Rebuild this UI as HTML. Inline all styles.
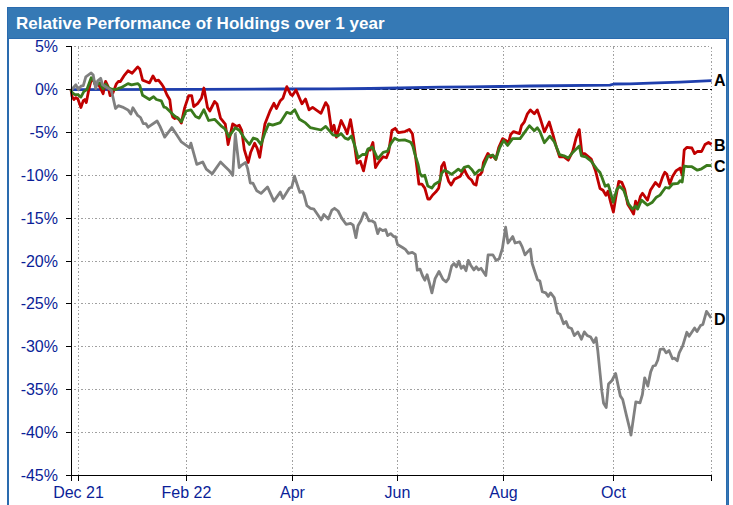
<!DOCTYPE html>
<html><head><meta charset="utf-8"><title>Relative Performance of Holdings over 1 year</title>
<style>html,body{margin:0;padding:0;background:#fff;width:733px;height:505px;overflow:hidden}svg{display:block}</style>
</head><body>
<svg width="733" height="505" viewBox="0 0 733 505"><rect x="7" y="7" width="722" height="498" fill="#3579B5"/>
<rect x="7" y="7" width="722" height="1" fill="#2A6BAE"/>
<rect x="7" y="7" width="1" height="498" fill="#2A6BAE"/>
<rect x="728" y="7" width="1" height="498" fill="#2A6BAE"/>
<rect x="8" y="38" width="719" height="467" fill="#2A6BAE"/>
<rect x="9" y="39" width="717" height="466" fill="#FFFFFF"/>
<text x="16" y="28.6" font-family="Liberation Sans" font-weight="bold" font-size="17" letter-spacing="0.05" fill="#FFFFFF">Relative Performance of Holdings over 1 year</text>
<line x1="74" y1="46.5" x2="711" y2="46.5" stroke="#A0A0A0" stroke-width="1" stroke-dasharray="2 2 1 2"/>
<line x1="74" y1="132.5" x2="711" y2="132.5" stroke="#A0A0A0" stroke-width="1" stroke-dasharray="2 2 1 2"/>
<line x1="74" y1="175.5" x2="711" y2="175.5" stroke="#A0A0A0" stroke-width="1" stroke-dasharray="2 2 1 2"/>
<line x1="74" y1="218.5" x2="711" y2="218.5" stroke="#A0A0A0" stroke-width="1" stroke-dasharray="2 2 1 2"/>
<line x1="74" y1="261.5" x2="711" y2="261.5" stroke="#A0A0A0" stroke-width="1" stroke-dasharray="2 2 1 2"/>
<line x1="74" y1="303.5" x2="711" y2="303.5" stroke="#A0A0A0" stroke-width="1" stroke-dasharray="2 2 1 2"/>
<line x1="74" y1="346.5" x2="711" y2="346.5" stroke="#A0A0A0" stroke-width="1" stroke-dasharray="2 2 1 2"/>
<line x1="74" y1="389.5" x2="711" y2="389.5" stroke="#A0A0A0" stroke-width="1" stroke-dasharray="2 2 1 2"/>
<line x1="74" y1="432.5" x2="711" y2="432.5" stroke="#A0A0A0" stroke-width="1" stroke-dasharray="2 2 1 2"/>
<line x1="78.5" y1="47" x2="78.5" y2="475" stroke="#A0A0A0" stroke-width="1" stroke-dasharray="2 2 1 2"/>
<line x1="186.5" y1="47" x2="186.5" y2="475" stroke="#A0A0A0" stroke-width="1" stroke-dasharray="2 2 1 2"/>
<line x1="292.5" y1="47" x2="292.5" y2="475" stroke="#A0A0A0" stroke-width="1" stroke-dasharray="2 2 1 2"/>
<line x1="397.5" y1="47" x2="397.5" y2="475" stroke="#A0A0A0" stroke-width="1" stroke-dasharray="2 2 1 2"/>
<line x1="503.5" y1="47" x2="503.5" y2="475" stroke="#A0A0A0" stroke-width="1" stroke-dasharray="2 2 1 2"/>
<line x1="613.5" y1="47" x2="613.5" y2="475" stroke="#A0A0A0" stroke-width="1" stroke-dasharray="2 2 1 2"/>
<line x1="711.5" y1="47" x2="711.5" y2="475" stroke="#A0A0A0" stroke-width="1" stroke-dasharray="2 2 1 2"/>
<line x1="70.4" y1="89.5" x2="712" y2="89.5" stroke="#000" stroke-width="1.2" stroke-dasharray="5.6 2.2"/>
<line x1="71.5" y1="46" x2="71.5" y2="481" stroke="#000" stroke-width="1"/>
<line x1="66" y1="475.5" x2="712" y2="475.5" stroke="#000" stroke-width="1"/>
<line x1="66" y1="46.5" x2="71.5" y2="46.5" stroke="#000" stroke-width="1"/>
<text x="58" y="52.1" text-anchor="end" font-family="Liberation Sans" font-size="16" fill="#0A1E98">5%</text>
<line x1="66" y1="89.5" x2="71.5" y2="89.5" stroke="#000" stroke-width="1"/>
<text x="58" y="95.1" text-anchor="end" font-family="Liberation Sans" font-size="16" fill="#0A1E98">0%</text>
<line x1="66" y1="132.5" x2="71.5" y2="132.5" stroke="#000" stroke-width="1"/>
<text x="58" y="138.1" text-anchor="end" font-family="Liberation Sans" font-size="16" fill="#0A1E98">-5%</text>
<line x1="66" y1="175.5" x2="71.5" y2="175.5" stroke="#000" stroke-width="1"/>
<text x="58" y="181.1" text-anchor="end" font-family="Liberation Sans" font-size="16" fill="#0A1E98">-10%</text>
<line x1="66" y1="218.5" x2="71.5" y2="218.5" stroke="#000" stroke-width="1"/>
<text x="58" y="224.1" text-anchor="end" font-family="Liberation Sans" font-size="16" fill="#0A1E98">-15%</text>
<line x1="66" y1="261.5" x2="71.5" y2="261.5" stroke="#000" stroke-width="1"/>
<text x="58" y="267.1" text-anchor="end" font-family="Liberation Sans" font-size="16" fill="#0A1E98">-20%</text>
<line x1="66" y1="303.5" x2="71.5" y2="303.5" stroke="#000" stroke-width="1"/>
<text x="58" y="309.1" text-anchor="end" font-family="Liberation Sans" font-size="16" fill="#0A1E98">-25%</text>
<line x1="66" y1="346.5" x2="71.5" y2="346.5" stroke="#000" stroke-width="1"/>
<text x="58" y="352.1" text-anchor="end" font-family="Liberation Sans" font-size="16" fill="#0A1E98">-30%</text>
<line x1="66" y1="389.5" x2="71.5" y2="389.5" stroke="#000" stroke-width="1"/>
<text x="58" y="395.1" text-anchor="end" font-family="Liberation Sans" font-size="16" fill="#0A1E98">-35%</text>
<line x1="66" y1="432.5" x2="71.5" y2="432.5" stroke="#000" stroke-width="1"/>
<text x="58" y="438.1" text-anchor="end" font-family="Liberation Sans" font-size="16" fill="#0A1E98">-40%</text>
<line x1="66" y1="475.5" x2="71.5" y2="475.5" stroke="#000" stroke-width="1"/>
<text x="58" y="481.1" text-anchor="end" font-family="Liberation Sans" font-size="16" fill="#0A1E98">-45%</text>
<line x1="78.5" y1="475" x2="78.5" y2="481" stroke="#000" stroke-width="1"/>
<text x="78.5" y="497.7" text-anchor="middle" font-family="Liberation Sans" font-size="16" fill="#0A1E98">Dec 21</text>
<line x1="186.5" y1="475" x2="186.5" y2="481" stroke="#000" stroke-width="1"/>
<text x="186.5" y="497.7" text-anchor="middle" font-family="Liberation Sans" font-size="16" fill="#0A1E98">Feb 22</text>
<line x1="292.5" y1="475" x2="292.5" y2="481" stroke="#000" stroke-width="1"/>
<text x="292.5" y="497.7" text-anchor="middle" font-family="Liberation Sans" font-size="16" fill="#0A1E98">Apr</text>
<line x1="397.5" y1="475" x2="397.5" y2="481" stroke="#000" stroke-width="1"/>
<text x="397.5" y="497.7" text-anchor="middle" font-family="Liberation Sans" font-size="16" fill="#0A1E98">Jun</text>
<line x1="503.5" y1="475" x2="503.5" y2="481" stroke="#000" stroke-width="1"/>
<text x="503.5" y="497.7" text-anchor="middle" font-family="Liberation Sans" font-size="16" fill="#0A1E98">Aug</text>
<line x1="613.5" y1="475" x2="613.5" y2="481" stroke="#000" stroke-width="1"/>
<text x="613.5" y="497.7" text-anchor="middle" font-family="Liberation Sans" font-size="16" fill="#0A1E98">Oct</text>
<line x1="711.5" y1="475" x2="711.5" y2="481" stroke="#000" stroke-width="1"/>
<path d="M71.0,89.6 L200.0,89.4 L280.0,89.0 L330.0,88.8 L370.0,88.5 L400.0,88.0 L440.0,87.2 L470.0,86.8 L500.0,86.5 L530.0,86.0 L610.0,85.2 L614.0,84.0 L630.0,83.8 L650.0,83.1 L680.0,82.1 L711.5,80.7" fill="none" stroke="#1F3FAD" stroke-width="2.8" stroke-linejoin="round"/>
<path d="M71.0,89.5 L72.1,96.6 L73.9,99.6 L75.9,97.6 L77.9,99.1 L80.9,107.5 L83.3,100.6 L84.8,99.6 L86.3,102.6 L88.8,89.7 L91.2,79.8 L92.7,78.8 L95.7,85.7 L98.2,83.8 L100.7,88.7 L103.1,93.7 L105.6,81.3 L108.1,86.7 L110.1,95.6 L112.8,93.3 L116.2,84.2 L118.3,81.5 L120.4,81.5 L123.9,75.9 L128.0,70.8 L132.2,73.2 L137.7,66.9 L139.8,69.0 L142.6,80.1 L146.0,81.5 L149.5,82.9 L153.0,75.9 L155.7,80.8 L158.5,80.1 L162.0,84.6 L163.9,87.8 L166.9,94.7 L169.8,99.7 L171.4,112.6 L172.8,117.1 L174.8,118.5 L177.2,117.5 L179.8,120.5 L181.3,123.1 L184.7,107.6 L188.7,95.7 L191.7,95.7 L193.7,106.6 L197.6,103.7 L201.5,98.0 L203.9,88.0 L207.5,107.5 L209.8,111.0 L214.6,101.5 L217.0,103.9 L220.5,118.1 L225.3,124.1 L228.1,144.5 L232.7,123.9 L236.6,126.5 L239.2,125.2 L241.7,130.3 L244.3,149.6 L248.2,162.5 L250.7,152.2 L254.6,143.2 L257.2,148.3 L259.7,157.3 L264.9,123.9 L270.0,111.0 L273.9,103.3 L276.5,108.5 L280.3,100.7 L282.9,98.2 L286.8,86.6 L290.6,94.3 L292.4,95.5 L296.0,90.0 L301.9,103.8 L305.5,99.0 L309.0,109.8 L312.6,107.4 L321.0,113.3 L325.7,102.6 L328.1,106.2 L331.7,131.2 L334.0,125.2 L336.4,137.1 L341.2,120.5 L345.0,128.3 L347.2,133.8 L350.5,119.6 L353.7,138.2 L357.0,163.2 L360.3,161.1 L363.5,170.9 L367.9,150.2 L370.1,150.2 L372.9,142.5 L375.5,167.6 L378.8,162.1 L383.2,156.7 L386.4,157.8 L388.6,152.3 L391.9,130.5 L395.2,128.3 L398.4,132.7 L405.0,131.6 L409.3,129.4 L412.4,133.7 L414.9,151.5 L416.9,167.3 L418.9,184.2 L421.9,184.2 L424.8,188.1 L427.8,199.0 L429.8,199.0 L432.7,195.0 L435.7,192.1 L438.7,188.1 L440.7,177.2 L441.6,166.4 L444.0,162.4 L446.6,174.3 L448.6,181.2 L451.1,185.1 L454.5,179.2 L460.4,176.2 L464.2,169.1 L466.6,174.4 L469.0,178.0 L471.4,179.8 L473.7,183.9 L476.1,185.1 L477.9,175.6 L480.3,174.4 L482.0,172.0 L483.5,162.3 L487.9,153.4 L490.8,157.3 L492.8,155.4 L495.8,159.3 L498.7,147.5 L502.7,138.6 L505.7,140.5 L508.6,142.5 L510.6,134.6 L513.6,131.6 L519.5,133.6 L521.5,125.7 L524.4,121.8 L527.4,113.8 L530.4,109.9 L534.3,113.8 L537.3,109.9 L540.0,117.6 L544.4,131.8 L549.2,122.0 L553.1,135.1 L556.4,147.1 L559.6,156.9 L564.0,156.9 L568.3,160.2 L572.7,151.4 L576.0,138.3 L579.3,129.6 L581.9,153.6 L584.7,153.6 L591.2,159.1 L595.6,171.1 L600.0,188.5 L603.0,190.3 L605.9,195.3 L607.9,191.3 L610.9,203.2 L613.4,212.1 L615.8,197.2 L618.8,181.4 L621.8,182.4 L624.7,189.3 L627.7,204.2 L630.7,209.1 L633.6,214.0 L635.6,201.2 L637.6,207.1 L640.5,196.2 L642.5,193.3 L647.5,200.2 L650.4,190.3 L655.4,182.4 L659.3,186.4 L662.8,176.4 L664.8,172.3 L666.9,174.3 L669.7,184.0 L672.5,176.4 L675.9,170.9 L680.1,168.1 L682.2,175.0 L684.2,150.1 L687.0,147.3 L691.9,148.0 L694.6,153.6 L697.4,151.5 L701.6,151.5 L705.0,144.5 L708.5,142.5 L711.5,144.5" fill="none" stroke="#C00000" stroke-width="2.8" stroke-linejoin="round"/>
<path d="M71.0,89.5 L72.1,92.7 L74.9,94.7 L77.9,94.7 L80.9,97.1 L83.8,91.7 L86.8,89.7 L91.2,77.8 L93.2,78.8 L95.7,85.7 L99.7,82.8 L103.1,88.7 L105.6,84.3 L108.6,87.7 L111.5,89.2 L115.5,89.7 L118.3,88.4 L121.1,87.7 L128.0,83.6 L131.5,84.9 L137.7,83.6 L139.8,85.6 L142.6,95.3 L149.5,99.5 L153.6,96.7 L156.4,99.5 L161.3,100.9 L164.0,107.1 L165.9,107.5 L169.5,111.0 L174.2,115.8 L177.8,118.1 L181.4,121.7 L186.1,111.0 L190.9,109.8 L195.6,116.5 L199.2,118.1 L203.9,109.8 L208.6,120.5 L214.6,119.3 L221.7,126.4 L225.0,129.0 L228.9,136.8 L235.3,127.8 L239.2,130.3 L244.3,138.0 L249.4,144.5 L253.3,138.0 L257.2,139.3 L261.0,144.5 L264.9,132.9 L268.7,123.9 L272.6,125.2 L276.5,123.9 L280.3,122.6 L286.8,112.3 L290.6,113.6 L294.8,109.8 L299.5,119.3 L305.5,122.9 L310.2,127.6 L321.0,130.0 L325.7,126.4 L332.9,134.8 L337.6,136.0 L341.2,133.6 L345.0,138.2 L348.3,139.3 L351.5,136.0 L354.8,145.8 L358.1,157.8 L362.4,154.5 L365.7,154.5 L367.9,149.1 L372.3,146.9 L377.7,158.9 L383.2,152.3 L387.5,151.2 L390.8,143.6 L394.7,138.2 L398.4,140.3 L404.7,139.9 L409.1,141.5 L411.0,142.5 L412.9,146.3 L414.8,153.9 L418.0,164.1 L419.9,173.3 L421.9,176.2 L424.8,175.3 L427.8,186.1 L431.8,188.1 L434.7,184.2 L439.7,181.2 L441.6,173.3 L444.6,170.3 L448.6,172.3 L451.5,174.3 L455.5,171.3 L458.3,169.1 L461.3,171.5 L464.2,167.3 L468.3,166.1 L472.0,169.7 L475.0,174.2 L479.0,170.2 L481.9,170.2 L484.9,163.3 L487.9,156.4 L492.8,155.0 L495.8,159.3 L499.7,147.5 L503.7,140.5 L507.6,145.5 L512.6,138.6 L516.5,138.6 L520.1,138.6 L524.4,132.6 L529.4,125.7 L534.3,130.7 L537.3,127.7 L540.0,131.8 L544.4,142.7 L549.8,136.2 L554.2,141.6 L559.6,154.7 L564.0,155.8 L568.3,158.0 L572.7,152.5 L579.3,146.0 L581.4,155.8 L585.8,156.9 L591.2,161.2 L596.7,168.9 L600.0,172.5 L602.0,177.5 L605.2,186.3 L608.2,184.7 L610.0,190.5 L613.2,202.2 L616.8,189.3 L619.8,186.4 L623.7,190.3 L628.7,204.2 L632.6,209.1 L635.6,206.1 L637.6,209.1 L641.5,200.2 L647.5,205.1 L652.4,202.2 L656.4,197.2 L660.0,195.1 L665.5,187.5 L669.0,188.2 L672.5,184.0 L678.0,183.3 L680.1,180.6 L682.2,182.0 L684.2,166.0 L687.7,166.7 L691.9,166.7 L697.4,170.2 L701.6,168.8 L707.1,165.3 L711.5,165.7" fill="none" stroke="#3A7A1C" stroke-width="2.8" stroke-linejoin="round"/>
<path d="M71.0,89.5 L72.0,89.2 L75.9,84.8 L78.4,89.7 L80.9,86.2 L83.3,85.7 L85.8,76.8 L91.2,72.9 L93.2,74.9 L95.7,88.7 L97.7,80.8 L100.7,78.3 L102.6,84.8 L105.6,86.7 L108.6,88.7 L111.5,90.7 L115.5,108.5 L118.3,105.7 L122.5,107.1 L128.0,109.9 L130.8,114.0 L132.9,107.8 L137.7,115.4 L140.5,117.5 L143.3,123.7 L146.0,123.7 L148.1,127.2 L157.1,121.0 L160.0,126.4 L164.7,137.1 L171.9,127.6 L181.4,141.9 L189.7,147.8 L190.9,143.1 L196.8,164.4 L202.7,162.0 L206.3,169.2 L212.2,173.9 L220.5,162.0 L225.0,166.4 L228.9,170.2 L232.7,175.4 L235.3,134.2 L239.2,167.6 L241.7,165.1 L245.6,162.5 L247.7,168.9 L250.3,183.1 L252.9,183.1 L256.8,190.8 L261.0,193.4 L267.5,186.9 L273.9,201.1 L280.3,192.1 L282.9,198.5 L289.3,188.2 L291.8,186.9 L294.5,176.2 L297.1,184.3 L299.8,192.3 L302.5,191.4 L304.3,195.8 L306.9,205.6 L310.5,208.3 L314.0,209.2 L317.6,214.5 L321.2,219.9 L323.8,214.5 L328.3,219.0 L331.9,210.1 L334.5,208.3 L338.1,211.0 L341.7,218.1 L346.1,224.3 L350.6,223.4 L353.2,225.2 L355.9,237.7 L358.0,225.7 L360.9,220.8 L363.9,212.9 L365.9,213.8 L368.8,220.8 L371.8,220.8 L374.8,222.7 L377.7,233.6 L379.7,228.7 L382.7,230.7 L385.7,229.7 L387.6,235.6 L390.6,233.6 L393.6,236.6 L395.5,236.6 L397.5,244.5 L402.5,247.5 L405.4,249.4 L408.4,253.4 L412.3,252.4 L415.3,254.4 L417.3,270.2 L420.0,269.1 L422.4,275.5 L424.8,280.2 L427.1,274.7 L429.5,283.4 L431.9,292.9 L435.1,278.6 L439.0,271.5 L443.0,279.4 L446.1,281.8 L448.5,278.6 L451.7,266.0 L454.1,263.6 L456.5,266.8 L458.8,261.2 L461.2,268.3 L463.6,266.0 L466.0,270.7 L468.3,260.4 L470.7,265.2 L473.9,269.9 L476.3,266.8 L478.6,269.9 L481.0,268.3 L485.8,275.5 L488.1,254.9 L492.9,254.9 L496.1,260.4 L499.2,258.8 L502.4,248.5 L505.6,227.1 L508.0,243.0 L512.7,236.6 L515.1,243.0 L519.7,241.9 L522.1,246.6 L525.0,254.9 L528.0,251.4 L530.4,249.0 L532.1,263.2 L535.2,272.7 L537.5,279.8 L539.9,281.0 L542.3,291.7 L545.8,292.9 L548.2,296.4 L550.6,292.9 L554.2,297.6 L557.7,313.1 L560.1,314.2 L563.6,323.7 L566.0,321.4 L568.4,327.3 L571.5,328.5 L574.3,335.6 L577.9,332.0 L581.4,339.2 L584.3,331.9 L587.1,335.4 L590.7,337.1 L593.8,342.5 L596.1,337.8 L597.8,350.8 L600.2,374.6 L601.9,391.4 L603.6,403.3 L606.2,407.6 L608.5,384.1 L612.0,380.5 L615.6,373.4 L620.3,395.9 L622.7,399.5 L626.3,414.9 L629.8,429.2 L631.0,435.1 L635.8,401.9 L640.0,402.8 L642.4,394.5 L644.7,377.8 L647.8,386.1 L650.7,371.9 L653.1,366.0 L655.4,365.5 L657.8,360.0 L660.2,349.3 L663.7,348.9 L666.1,352.9 L669.0,350.5 L672.5,358.8 L674.4,358.1 L677.3,360.7 L679.2,352.9 L682.7,345.8 L686.8,332.3 L689.1,336.3 L694.6,328.0 L697.0,331.5 L700.5,325.6 L702.9,324.4 L706.5,311.4 L711.2,318.0" fill="none" stroke="#808080" stroke-width="2.8" stroke-linejoin="round"/>
<line x1="71.5" y1="46" x2="71.5" y2="481" stroke="#000" stroke-width="1"/>
<text x="714" y="85.8" font-family="Liberation Sans" font-weight="bold" font-size="16" fill="#000">A</text>
<text x="714" y="151" font-family="Liberation Sans" font-weight="bold" font-size="16" fill="#000">B</text>
<text x="714" y="172" font-family="Liberation Sans" font-weight="bold" font-size="16" fill="#000">C</text>
<text x="714" y="324.6" font-family="Liberation Sans" font-weight="bold" font-size="16" fill="#000">D</text></svg>
</body></html>
